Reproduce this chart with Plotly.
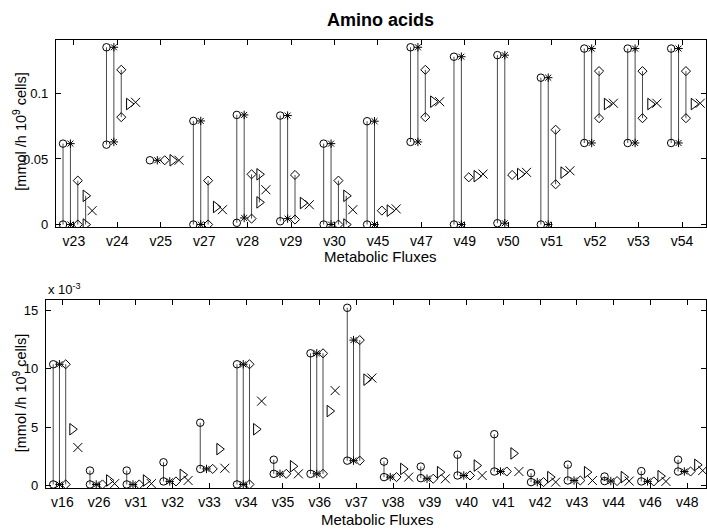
import plotly.graph_objects as go

# ---------------- data ----------------
top_cats = ["v23", "v24", "v25", "v27", "v28", "v29", "v30", "v45", "v47",
            "v49", "v50", "v51", "v52", "v53", "v54"]
top_circle_lo = [0, 0.0609, 0.049, 0, 0.0013, 0.0025, 0, 0, 0.063, 0, 0.001, 0, 0.0622, 0.0622, 0.0622]
top_circle_hi = [0.0617, 0.1352, 0.049, 0.079, 0.0836, 0.0831, 0.0617, 0.0788, 0.1352, 0.128, 0.1292, 0.112, 0.1342, 0.1342, 0.1342]
top_star_lo = [0, 0.063, 0.049, 0, 0.005, 0.0045, 0, 0, 0.063, 0, 0.001, 0, 0.0622, 0.0622, 0.0622]
top_star_hi = [0.0617, 0.1352, 0.049, 0.079, 0.0836, 0.0831, 0.0617, 0.0788, 0.1352, 0.128, 0.1292, 0.112, 0.1342, 0.1342, 0.1342]
top_diam_lo = [0, 0.0819, 0.049, 0, 0.0045, 0.0038, 0, 0.0106, 0.0819, 0.036, 0.0378, 0.0307, 0.0811, 0.0811, 0.0811]
top_diam_hi = [0.0335, 0.118, 0.049, 0.0335, 0.0383, 0.0378, 0.0335, 0.0106, 0.118, 0.036, 0.0378, 0.0723, 0.117, 0.117, 0.117]
top_tri_lo = [0, 0.0919, 0.049, 0.0134, 0.0169, 0.0164, 0, 0.0106, 0.0937, 0.0369, 0.0385, 0.0396, 0.0919, 0.0919, 0.0919]
top_tri_hi = [0.0219, 0.0919, 0.049, 0.0134, 0.0383, 0.0164, 0.0219, 0.0106, 0.0937, 0.0369, 0.0385, 0.0396, 0.0919, 0.0919, 0.0919]
top_x = [0.0106, 0.0932, 0.049, 0.0113, 0.0265, 0.0151, 0.0113, 0.0119, 0.0937, 0.0385, 0.0398, 0.041, 0.0925, 0.0925, 0.0925]
top_yticks = [0, 0.05, 0.1]
top_yticklabels = ["0", "0.05", "0.1"]

bot_cats = ["v16", "v26", "v31", "v32", "v33", "v34", "v35", "v36", "v37", "v38",
            "v39", "v40", "v41", "v42", "v43", "v44", "v46", "v48"]
# values in units of 1e-3
bot_circle_lo = [0.08, 0.08, 0.08, 0.34, 1.41, 0.08, 0.99, 0.99, 2.12, 0.71, 0.62, 0.85, 1.19, 0.28, 0.42, 0.37, 0.34, 1.19]
bot_circle_hi = [10.38, 1.27, 1.27, 1.98, 5.37, 10.38, 2.2, 11.32, 15.22, 2.04, 1.61, 2.63, 4.39, 1.05, 1.78, 0.76, 1.22, 2.2]
bot_star_lo = [0.08, 0.08, 0.08, 0.34, 1.41, 0.08, 0.99, 0.99, 2.12, 0.71, 0.57, 0.85, 1.19, 0.28, 0.42, 0.37, 0.34, 1.19]
bot_star_hi = [10.38, 0.08, 0.08, 0.34, 1.41, 10.38, 0.99, 11.32, 12.45, 0.71, 0.57, 0.85, 1.19, 0.28, 0.42, 0.37, 0.34, 1.19]
bot_diam_lo = [0.08, 0.08, 0.08, 0.34, 1.41, 0.08, 0.99, 0.99, 2.12, 0.71, 0.57, 0.85, 1.19, 0.28, 0.42, 0.37, 0.34, 1.19]
bot_diam_hi = [10.38, 0.08, 0.08, 0.34, 1.41, 10.38, 0.99, 11.32, 12.45, 0.71, 0.57, 0.85, 1.19, 0.28, 0.42, 0.37, 0.34, 1.19]
bot_tri_lo = [4.81, 0.42, 0.42, 0.9, 3.11, 4.81, 1.64, 6.37, 9.06, 1.41, 1.13, 1.7, 2.74, 0.71, 1.13, 0.71, 0.79, 1.76]
bot_tri_hi = [4.81, 0.42, 0.42, 0.9, 3.11, 4.81, 1.64, 6.37, 9.06, 1.41, 1.13, 1.7, 2.74, 0.71, 1.13, 0.71, 0.79, 1.76]
bot_x = [3.25, 0.15, 0.15, 0.42, 1.47, 7.22, 0.99, 8.12, 9.2, 0.71, 0.57, 0.85, 1.19, 0.28, 0.42, 0.37, 0.34, 1.27]
bot_yticks = [0, 5, 10, 15]
bot_yticklabels = ["0", "5", "10", "15"]

# ---------------- style ----------------
FONT = "Liberation Sans"
offsets = {"circle": -0.25, "star": -0.08, "diam": 0.09, "tri": 0.27, "x": 0.42}
symbols = {"circle": "circle-open", "star": "asterisk-open", "diam": "diamond-open",
           "tri": "triangle-right-open", "x": "x-thin-open"}
sizes = {"circle": 7.5, "star": 7, "diam": 7, "tri": 10, "x": 9}
LINE_COLOR = "#4a4a4a"

fig = go.Figure()


def add_group(cats, series, xa, ya):
    n = len(cats)
    for key, (lo, hi) in series.items():
        off = offsets[key]
        lx, ly = [], []
        mx, my = [], []
        for i in range(n):
            xp = i + off
            if hi is not None and lo[i] != hi[i]:
                lx += [xp, xp, None]
                ly += [lo[i], hi[i], None]
                mx += [xp, xp]
                my += [lo[i], hi[i]]
            else:
                mx.append(xp)
                my.append(lo[i])
        if lx:
            fig.add_trace(go.Scatter(x=lx, y=ly, mode="lines", xaxis=xa, yaxis=ya,
                                     line=dict(color=LINE_COLOR, width=1),
                                     showlegend=False, hoverinfo="skip"))
        fig.add_trace(go.Scatter(x=mx, y=my, mode="markers", xaxis=xa, yaxis=ya,
                                 marker=dict(symbol=symbols[key], size=sizes[key],
                                             color="black", line=dict(color="black", width=1)),
                                 showlegend=False))


add_group(top_cats, {"circle": (top_circle_lo, top_circle_hi), "star": (top_star_lo, top_star_hi),
                     "diam": (top_diam_lo, top_diam_hi), "tri": (top_tri_lo, top_tri_hi),
                     "x": (top_x, None)}, "x", "y")
add_group(bot_cats, {"circle": (bot_circle_lo, bot_circle_hi), "star": (bot_star_lo, bot_star_hi),
                     "diam": (bot_diam_lo, bot_diam_hi), "tri": (bot_tri_lo, bot_tri_hi),
                     "x": (bot_x, None)}, "x2", "y2")

W, H = 707, 532
axis_common = dict(showline=True, linecolor="black", linewidth=1, mirror="ticks",
                   ticks="inside", ticklen=5, tickcolor="black", tickwidth=1,
                   showgrid=False, zeroline=False)
xfont = dict(family=FONT, size=14, color="black")
yfont = dict(family=FONT, size=13, color="black")

fig.update_layout(
    width=W, height=H, margin=dict(l=0, r=0, t=0, b=0),
    paper_bgcolor="white", plot_bgcolor="white",
    xaxis=dict(domain=[56 / W, 1], range=[-0.414, 14.552], anchor="y", tickfont=xfont,
               ticklabelstandoff=1,
               tickmode="array", tickvals=list(range(len(top_cats))), ticktext=top_cats, **axis_common),
    yaxis=dict(domain=[(H - 229.3) / H, (H - 40.7) / H], range=[-0.002, 0.1405], anchor="x",
               tickfont=yfont, ticklabelstandoff=4,
               tickmode="array", tickvals=top_yticks, ticktext=top_yticklabels, **axis_common),
    xaxis2=dict(domain=[46 / W, 1], range=[-0.448, 17.51], anchor="y2", tickfont=xfont,
                ticklabelstandoff=1,
                tickmode="array", tickvals=list(range(len(bot_cats))), ticktext=bot_cats, **axis_common),
    yaxis2=dict(domain=[(H - 492.7) / H, (H - 303.3) / H], range=[-0.23, 15.85], anchor="x2",
                tickfont=yfont, ticklabelstandoff=4,
                tickmode="array", tickvals=bot_yticks, ticktext=bot_yticklabels, **axis_common),
)


def ann(text, x, y, size, angle=0, xanchor="center"):
    fig.add_annotation(text=text, x=x / W, y=(H - y) / H, xref="paper", yref="paper",
                       xanchor=xanchor, yanchor="middle", showarrow=False, textangle=angle,
                       font=dict(family=FONT, size=size, color="black"))


ann("<b>Amino acids</b>", 381, 20, 18)
ann("Metabolic Fluxes", 381, 259, 15)
ann("Metabolic Fluxes", 378, 524, 15)
ann("[mmol /h 10<sup>9</sup> cells]", 20, 133, 14.5, angle=-90)
ann("[mmol /h 10<sup>9</sup> cells]", 20, 397, 14.5, angle=-90)
ann("x 10<sup>-3</sup>", 46, 292, 13, xanchor="left")

fig.write_html("out.html")
